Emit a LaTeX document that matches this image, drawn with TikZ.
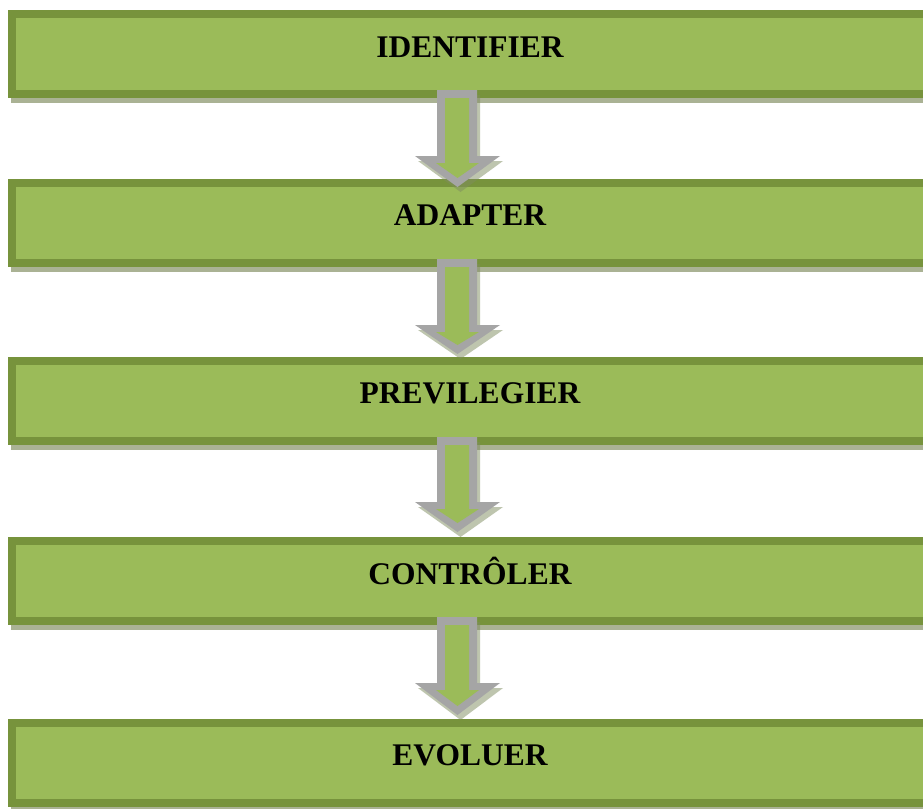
\documentclass[tikz,border=0pt]{standalone}
\usepackage{fontspec}
\setmainfont{Liberation Serif}
\usetikzlibrary{backgrounds}
\definecolor{boxdark}{HTML}{77933C}
\definecolor{boxfill}{HTML}{9BBB59}
\definecolor{boxshadow}{HTML}{AAB294}
\definecolor{arrgray}{HTML}{A5A5A5}
\definecolor{arrshadow}{HTML}{7F8C5F}
\newcommand\blkarrow[3]{% top, head base, tip (y in px)
  \fill[arrshadow,opacity=.5,shift={(3,5)}] (437,#1) -- (477,#1) -- (477,#2) -- (500,#2) -- (457.5,#3) -- (415,#2) -- (437,#2) -- cycle;
  \fill[arrgray] (437,#1) -- (477,#1) -- (477,#2) -- (500,#2) -- (457.5,#3) -- (415,#2) -- (437,#2) -- cycle;
  \fill[boxfill] (445,{#1+8}) -- (469,{#1+8}) -- (469,{#2+7}) -- (479,{#2+7}) -- (457.5,{#3-9}) -- (436,{#2+7}) -- (445,{#2+7}) -- cycle;
}
\begin{document}
\begin{tikzpicture}[x=1pt,y=-1pt,
  box/.style={draw=boxdark,line width=8pt,fill=boxfill,minimum width=924pt,minimum height=80pt,inner sep=0pt,outer sep=4pt},
  lbl/.style={font=\fontsize{31.5}{36}\selectfont\bfseries,anchor=base,inner sep=0pt}]
\useasboundingbox (0,0) rectangle (923,808);
\begin{scope}[on background layer]
  \fill[white] (0,0) rectangle (923,808);
\end{scope}
\clip (0,0) rectangle (923,808);

\node[box] (b1) at (474,54) {};
\node[box] (b2) at (474,222.5) {};
\node[box] (b3) at (474,400.5) {};
\node[box] (b4) at (474,581) {};
\node[box] (b5) at (474,762.5) {};

\begin{scope}[on background layer]
  \foreach \b in {b1,b2,b3,b4,b5}
    \fill[boxshadow] ([xshift=3pt,yshift=-5pt]\b.south west) rectangle ([xshift=20pt,yshift=-5pt]\b.north east);
\end{scope}

\node[lbl] (t1) at (470,57) {IDENTIFIER};
\node[lbl] (t2) at (470,225) {ADAPTER};
\node[lbl] (t3) at (470,403) {PREVILEGIER};
\node[lbl] (t4) at (470,584) {CONTRÔLER};
\node[lbl] (t5) at (470,765) {EVOLUER};

\blkarrow{90}{156}{187}
\blkarrow{259}{325}{354}
\blkarrow{437}{502}{532}
\blkarrow{617}{683}{715}
\end{tikzpicture}
\end{document}
